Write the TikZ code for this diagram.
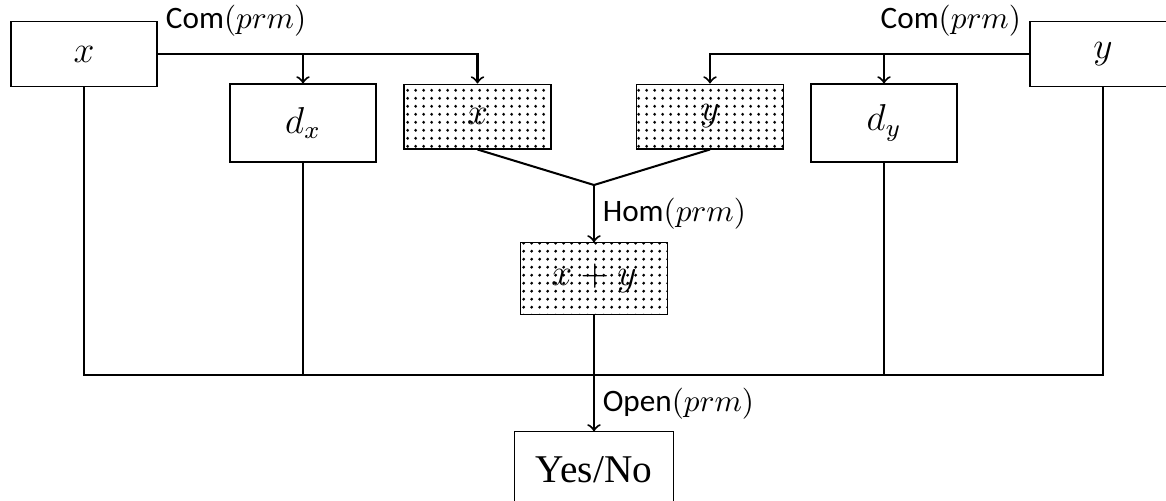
\documentclass[tikz,border=0pt]{standalone}
\usepackage{fontspec}
\usetikzlibrary{patterns.meta}
\newfontfamily\labelsf{Carlito}
\newfontfamily\answerfont{Liberation Serif}
\begin{document}
\begin{tikzpicture}[x=0.3205pt, y=-0.3205pt,
    plainbox/.style={draw, line width=0.35pt, inner sep=0pt,
      minimum width=46.8pt, minimum height=20.8pt, font=\large},
    tallbox/.style={plainbox, minimum height=25pt},
    dotbox/.style={plainbox, minimum width=47.1pt,
      pattern={Dots[distance=2.47pt, radius=0.5pt]}},
    wire/.style={line width=0.65pt},
    arrowwire/.style={wire, ->},
    steplabel/.style={inner sep=2.5pt, font=\labelsf}]
  \useasboundingbox (0,0) rectangle (1166,500);
  \clip (0,0) rectangle (1166,500);

  % inputs and their commitments
  \node[plainbox] (bx) at (84,54) {$x$};
  \node[plainbox] (by) at (1103,54) {$y$};
  \node[tallbox] (dx) at (303,123) {$d_x$};
  \node[tallbox] (dy) at (884,123) {$d_y$};
  \node[dotbox] (px) at (477.5,116.5) {$x$};
  \node[dotbox] (py) at (710,116.5) {$y$};

  % homomorphic sum and the final answer
  \coordinate (m) at (594,185);
  \node[dotbox, minimum height=22.8pt] (xy) at (594,278.5) {$x+y$};
  \coordinate (bus) at (594,375);
  \node[draw, line width=0.35pt, inner sep=0pt, minimum width=51pt,
    minimum height=24.4pt, font=\answerfont\fontsize{12.6}{15}\selectfont]
    (yn) at (594,470) {Yes/No};

  % commitment labels
  \node[steplabel, anchor=west] at (bx.north east) {Com$(prm)$};
  \node[steplabel, anchor=east] at (by.north west) {Com$(prm)$};

  % commitment wires
  \draw[arrowwire] (bx.east) -| (px.north);
  \draw[arrowwire] (dx.north |- bx.east) -- (dx.north);
  \draw[arrowwire] (by.west) -| (py.north);
  \draw[arrowwire] (dy.north |- by.west) -- (dy.north);

  % combining the hidden values
  \draw[wire] (px.south) -- (m) -- (py.south);
  \draw[arrowwire] (m) -- node[steplabel, right] {Hom$(prm)$} (xy.north);

  % collecting everything for the opening
  \draw[wire] (bx.south) |- (by.south |- bus) -- (by.south);
  \draw[wire] (dx.south) -- (dx.south |- bus);
  \draw[wire] (dy.south) -- (dy.south |- bus);
  \draw[wire] (xy.south) -- (bus);
  \draw[arrowwire] (bus) -- node[steplabel, right] {Open$(prm)$} (yn.north);
\end{tikzpicture}
\end{document}
